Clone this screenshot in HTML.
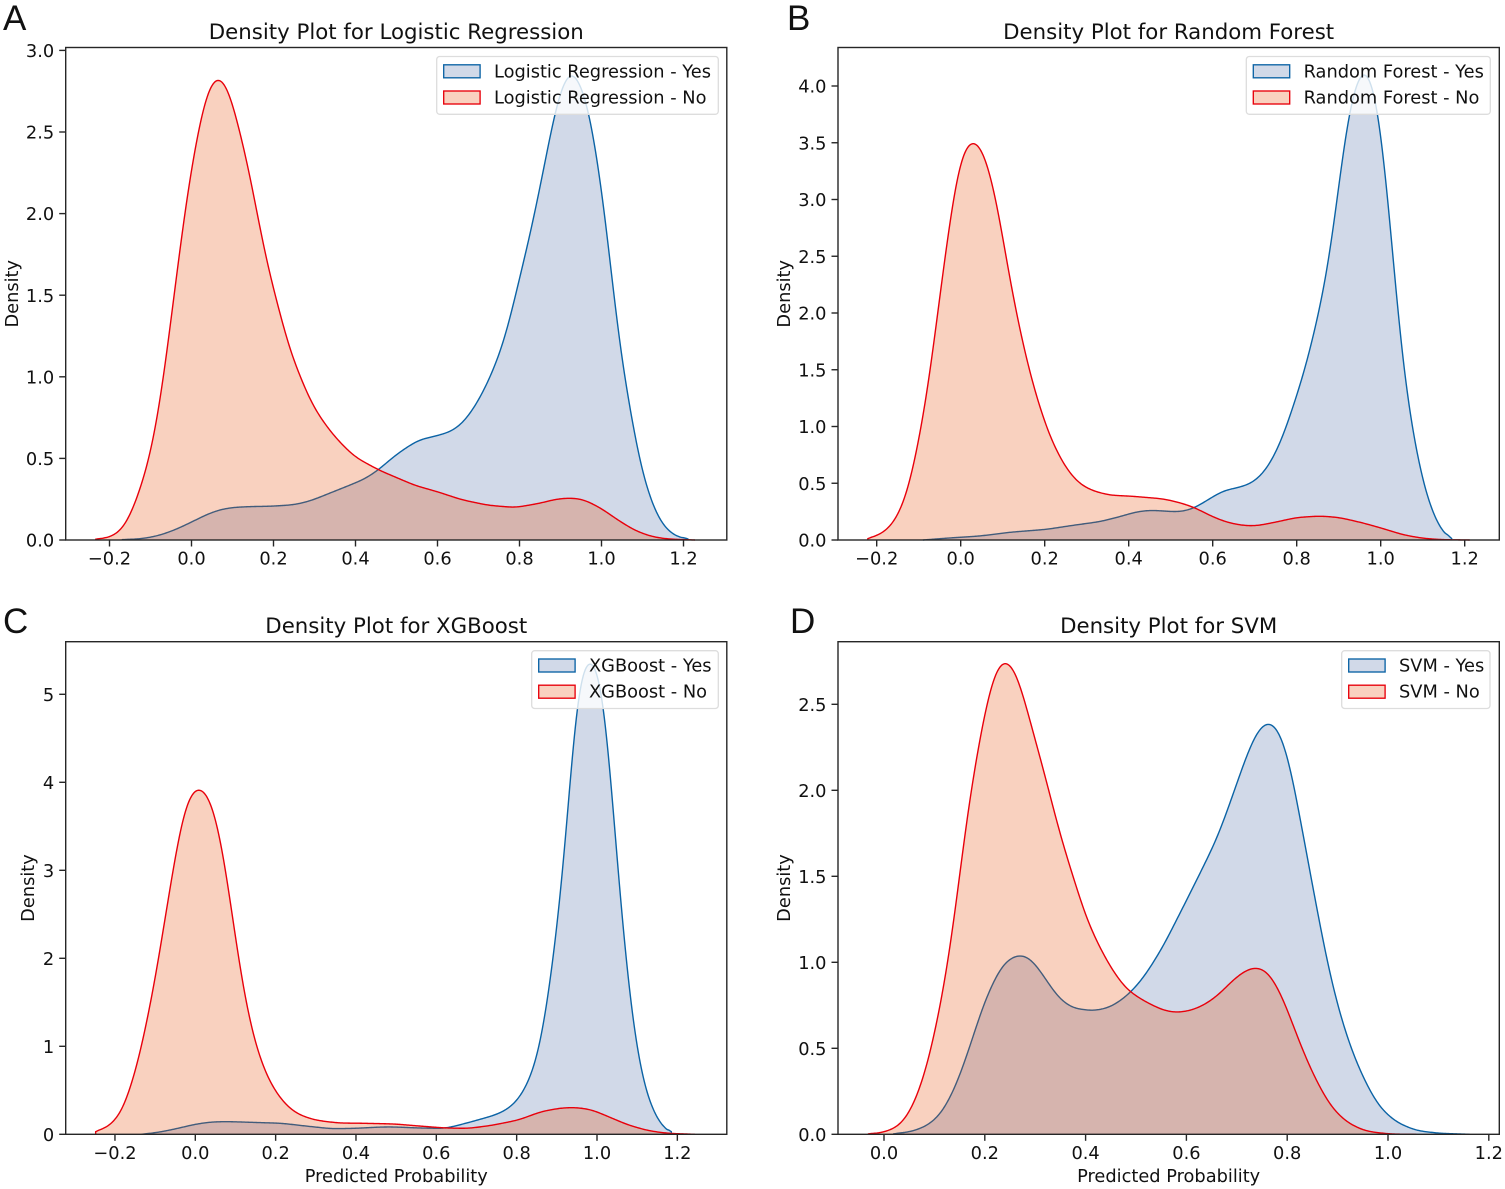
<!DOCTYPE html>
<html lang="en">
<head>
<meta charset="utf-8">
<title>Density plots</title>
<style>
html,body{margin:0;padding:0;background:#fff;width:1505px;height:1189px;overflow:hidden}
svg{display:block}
text{font-family:"DejaVu Sans","Liberation Sans",sans-serif;fill:#111}
</style>
</head>
<body>
<svg id="fig" xmlns="http://www.w3.org/2000/svg" width="1505" height="1189" viewBox="0 0 1505 1189"></svg>
<script>
// Panel A - Logistic Regression
const lrYesX = [-0.17,-0.122,-0.081,-0.04,0,0.041,0.074,0.106,0.147,0.195,0.252,0.293,0.334,0.383,0.423,0.456,0.496,0.521,0.554,0.602,0.635,0.667,0.7,0.732,0.765,0.797,0.83,0.862,0.887,0.903,0.923,0.94,0.96,0.976,0.992,1.009,1.025,1.041,1.058,1.074,1.09,1.106,1.131,1.155,1.179,1.212];
const lrYesY = [0.002,0.008,0.027,0.063,0.11,0.16,0.188,0.2,0.205,0.207,0.217,0.243,0.284,0.333,0.376,0.431,0.516,0.56,0.611,0.642,0.669,0.734,0.857,1.02,1.245,1.572,1.92,2.31,2.62,2.76,2.86,2.82,2.7,2.53,2.27,1.98,1.61,1.27,0.98,0.755,0.53,0.366,0.182,0.08,0.029,0.006];
const lrNoX = [-0.235,-0.203,-0.178,-0.154,-0.13,-0.105,-0.085,-0.065,-0.044,-0.024,-0.004,0.017,0.037,0.053,0.065,0.078,0.094,0.114,0.135,0.155,0.171,0.191,0.212,0.236,0.261,0.293,0.326,0.358,0.399,0.456,0.496,0.545,0.602,0.659,0.724,0.789,0.845,0.894,0.931,0.96,1.0,1.041,1.082,1.122,1.163,1.228];
const lrNoY = [0.004,0.018,0.049,0.131,0.284,0.489,0.73,1.06,1.47,1.86,2.21,2.5,2.72,2.8,2.82,2.8,2.72,2.53,2.32,2.07,1.86,1.63,1.43,1.2,1.03,0.84,0.71,0.61,0.51,0.43,0.387,0.335,0.294,0.247,0.213,0.2,0.223,0.252,0.256,0.243,0.192,0.121,0.059,0.022,0.006,0];
// Panel B - Random Forest
const rfYesX = [-0.09,-0.026,0.045,0.117,0.204,0.267,0.331,0.379,0.418,0.45,0.482,0.51,0.53,0.557,0.593,0.625,0.665,0.696,0.728,0.76,0.791,0.823,0.855,0.879,0.902,0.922,0.942,0.962,0.982,0.998,1.014,1.03,1.045,1.061,1.077,1.097,1.117,1.14,1.17];
const rfYesY = [0,0.018,0.035,0.068,0.094,0.129,0.162,0.206,0.247,0.261,0.256,0.25,0.255,0.285,0.364,0.432,0.467,0.511,0.628,0.849,1.172,1.554,2.053,2.523,3.169,3.697,4.006,4.123,3.962,3.639,3.11,2.464,1.847,1.348,0.966,0.584,0.32,0.115,0.009];
const rfNoX = [-0.221,-0.193,-0.169,-0.149,-0.129,-0.11,-0.09,-0.07,-0.05,-0.03,-0.01,0.01,0.033,0.053,0.073,0.093,0.113,0.133,0.152,0.172,0.196,0.22,0.252,0.283,0.315,0.355,0.41,0.482,0.521,0.557,0.593,0.632,0.672,0.704,0.752,0.799,0.855,0.902,0.958,1.006,1.053,1.101,1.148,1.212];
const rfNoY = [0.012,0.053,0.117,0.235,0.411,0.705,1.087,1.557,2.144,2.673,3.17,3.436,3.5,3.407,3.17,2.82,2.38,2.0,1.674,1.38,1.087,0.852,0.631,0.499,0.435,0.396,0.385,0.362,0.329,0.285,0.217,0.159,0.129,0.126,0.159,0.197,0.211,0.197,0.15,0.1,0.047,0.015,0.003,0];
// Panel C - XGBoost
const xgYesX = [-0.134,-0.092,-0.051,0,0.041,0.082,0.14,0.215,0.273,0.339,0.398,0.464,0.497,0.555,0.622,0.68,0.746,0.779,0.808,0.837,0.862,0.883,0.9,0.916,0.933,0.949,0.966,0.987,1.003,1.02,1.037,1.053,1.07,1.086,1.103,1.12,1.14,1.165,1.185];
const xgYesY = [0,0.023,0.06,0.114,0.14,0.144,0.136,0.125,0.095,0.064,0.068,0.083,0.083,0.072,0.068,0.133,0.22,0.295,0.428,0.693,1.11,1.754,2.36,3.04,3.95,4.9,5.24,5.33,5.2,4.75,3.875,2.93,2.13,1.413,0.92,0.542,0.277,0.087,0.03];
const xgNoX = [-0.248,-0.221,-0.2,-0.179,-0.159,-0.138,-0.117,-0.096,-0.076,-0.055,-0.034,-0.013,0.007,0.028,0.049,0.07,0.09,0.111,0.132,0.153,0.173,0.198,0.227,0.256,0.298,0.356,0.422,0.497,0.555,0.622,0.68,0.738,0.804,0.862,0.912,0.949,0.987,1.028,1.078,1.128,1.177,1.244];
const xgNoY = [0.03,0.087,0.163,0.314,0.58,0.92,1.375,1.867,2.436,3.0,3.534,3.837,3.913,3.856,3.61,3.155,2.549,1.905,1.375,0.996,0.731,0.504,0.333,0.231,0.163,0.129,0.125,0.117,0.095,0.072,0.068,0.102,0.163,0.258,0.299,0.303,0.277,0.201,0.106,0.042,0.011,0];
// Panel D - SVM
const svmYesX = [0.018,0.058,0.091,0.117,0.144,0.17,0.196,0.216,0.236,0.256,0.272,0.289,0.309,0.329,0.349,0.375,0.415,0.448,0.474,0.494,0.52,0.554,0.58,0.607,0.633,0.66,0.68,0.7,0.719,0.739,0.755,0.765,0.778,0.795,0.811,0.831,0.851,0.871,0.891,0.911,0.931,0.957,0.984,1.017,1.056,1.102,1.162];
const svmYesY = [0.002,0.019,0.062,0.14,0.295,0.508,0.74,0.876,0.983,1.027,1.039,1.021,0.953,0.866,0.789,0.736,0.719,0.74,0.789,0.841,0.934,1.095,1.244,1.4,1.554,1.719,1.874,2.039,2.194,2.329,2.378,2.386,2.358,2.252,2.058,1.748,1.438,1.128,0.857,0.643,0.469,0.295,0.159,0.072,0.023,0.006,0];
const svmNoX = [-0.032,-0.002,0.024,0.044,0.064,0.084,0.104,0.124,0.144,0.163,0.183,0.203,0.223,0.243,0.263,0.282,0.302,0.322,0.342,0.362,0.382,0.401,0.428,0.454,0.481,0.514,0.554,0.583,0.613,0.639,0.666,0.692,0.719,0.739,0.759,0.778,0.798,0.818,0.838,0.858,0.878,0.897,0.924,0.957,1.003,1.056];
const svmNoY = [0.002,0.012,0.043,0.101,0.217,0.391,0.643,0.953,1.36,1.806,2.174,2.484,2.698,2.745,2.669,2.484,2.271,2.058,1.826,1.622,1.438,1.264,1.089,0.953,0.847,0.779,0.722,0.709,0.725,0.76,0.818,0.895,0.953,0.967,0.944,0.866,0.74,0.585,0.44,0.314,0.207,0.13,0.062,0.019,0.002,0];
// Tick labels
const xTicksWide = ["-0.2","0.0","0.2","0.4","0.6","0.8","1.0","1.2"];
const xTicksSvm = ["0.0","0.2","0.4","0.6","0.8","1.0","1.2"];
const yTicksLr = ["0.0","0.5","1.0","1.5","2.0","2.5","3.0"];
const yTicksRf = ["0.0","0.5","1.0","1.5","2.0","2.5","3.0","3.5","4.0"];
const yTicksXg = ["0","1","2","3","4","5"];
const yTicksSvm = ["0.0","0.5","1.0","1.5","2.0","2.5"];

const SVGNS = "http://www.w3.org/2000/svg";
const fig = document.getElementById("fig");
const YES_LINE = "#0b63a5", NO_LINE = "#e8000b";
const YES_FILL = "rgb(71,103,163)", NO_FILL = "rgb(232,72,0)";
const AXIS = "#262626";

function mk(parent, tag, attrs, txt) {
  const el = document.createElementNS(SVGNS, tag);
  for (const k in attrs) el.setAttribute(k, attrs[k]);
  if (txt !== undefined) el.textContent = txt;
  parent.appendChild(el);
  return el;
}

// Gaussian smoothing with a symmetric window that shrinks toward the ends.
function smooth(v, sigma) {
  const out = [];
  const R = Math.ceil(sigma * 3);
  for (let i = 0; i < v.length; i++) {
    const r = Math.min(R, i, v.length - 1 - i);
    let sum = 0, w = 0;
    for (let k = -r; k <= r; k++) {
      const g = Math.exp(-k * k / (2 * sigma * sigma));
      sum += g * v[i + k];
      w += g;
    }
    out.push(sum / w);
  }
  return out;
}

// Resample the read points through the axis functions and build a smooth KDE-like outline.
function curvePath(xs, ys, sx, sy) {
  const n = xs.length;
  const base = sy(0);
  const x0 = sx(xs[0]), x1 = sx(xs[n - 1]);
  const steps = Math.ceil(x1 - x0);
  const px = [], raw = [];
  let j = 0;
  for (let i = 0; i <= steps; i++) {
    const x = x0 + (x1 - x0) * i / steps;
    while (j < n - 2 && sx(xs[j + 1]) < x) j++;
    const a = sx(xs[j]), b = sx(xs[j + 1]);
    const t = Math.min(1, Math.max(0, (x - a) / (b - a)));
    px.push(x);
    raw.push(sy(ys[j]) + (sy(ys[j + 1]) - sy(ys[j])) * t);
  }
  const s1 = smooth(raw, 7);
  const s2 = smooth(s1, 7);
  const py = s1.map((v, i) => Math.min(base, 2 * v - s2[i]));
  let p = "";
  if (ys[0] > 0.01) p = "M" + px[0].toFixed(2) + " " + base + "L" + px[0].toFixed(2) + " " + py[0].toFixed(2);
  else p = "M" + px[0].toFixed(2) + " " + py[0].toFixed(2);
  for (let i = 1; i < px.length; i++) p += "L" + px[i].toFixed(2) + " " + py[i].toFixed(2);
  if (ys[n - 1] > 0.01) p += "L" + x1.toFixed(2) + " " + base;
  return { line: p, x0: x0, x1: x1 };
}

function drawPanel(o) {
  const g = mk(fig, "g", {});
  
  

  const sx = v => o.x0 + o.xUnit * v;
  const sy = v => o.y0 - o.yUnit * v;
  const base = sy(0);

  // Yes series (drawn first so the No fill tints it)
  const yes = curvePath(o.yesX, o.yesY, sx, sy);
  const yesFill = mk(g, "path", { d: yes.line + "L" + yes.x1 + " " + base + "L" + yes.x0 + " " + base + "Z", fill: YES_FILL, "fill-opacity": 0.25, stroke: "none" });
  
  
  const yesLine = mk(g, "path", { d: yes.line, fill: "none", stroke: YES_LINE, "stroke-width": 1.4 });
  
  

  const no = curvePath(o.noX, o.noY, sx, sy);
  const noFill = mk(g, "path", { d: no.line + "L" + no.x1 + " " + base + "L" + no.x0 + " " + base + "Z", fill: NO_FILL, "fill-opacity": 0.25, stroke: "none" });
  
  
  const noLine = mk(g, "path", { d: no.line, fill: "none", stroke: NO_LINE, "stroke-width": 1.4 });
  
  

  // Frame
  const frame = mk(g, "rect", { x: o.left, y: o.top, width: o.right - o.left, height: o.bottom - o.top, fill: "none", stroke: AXIS, "stroke-width": 1.4 });
  
  

  // X ticks
  o.xTicks.forEach(label => {
    const v = parseFloat(label), x = sx(v);
    const t = mk(g, "line", { x1: x, x2: x, y1: o.bottom, y2: o.bottom + 6.5, stroke: AXIS, "stroke-width": 1.4 });
    
    
    const l = mk(g, "text", { x: x, y: o.bottom + 24.5, "text-anchor": "middle", "font-size": 17.8 }, label.replace("-", "\u2212"));
    
    
  });

  // Y ticks
  o.yTicks.forEach(label => {
    const y = sy(parseFloat(label));
    const t = mk(g, "line", { x1: o.left - 6.5, x2: o.left, y1: y, y2: y, stroke: AXIS, "stroke-width": 1.4 });
    
    
    const l = mk(g, "text", { x: o.left - 11.5, y: y + 6.6, "text-anchor": "end", "font-size": 17.8 }, label);
    
    
  });

  // Title and axis titles
  const cx = (o.left + o.right) / 2;
  const title = mk(g, "text", { x: cx, y: o.top - 8.5, "text-anchor": "middle", "font-size": 21.3 }, o.title);
  
  

  const cy = (o.top + o.bottom) / 2;
  const yl = mk(g, "text", { x: o.yLabelX, y: cy, "text-anchor": "middle", "font-size": 17.8, transform: "rotate(-90 " + o.yLabelX + " " + cy + ")" }, "Density");
  
  

  if (o.xLabel) {
    const xl = mk(g, "text", { x: cx, y: o.bottom + 47.5, "text-anchor": "middle", "font-size": 17.8 }, o.xLabel);
    
    
  }

  // Legend
  const lg = mk(g, "g", {});
  
  
  const ly = o.top + 9;
  const box = mk(lg, "rect", { x: o.legendLeft, y: ly, width: o.legendRight - o.legendLeft, height: 57.8, rx: 3, fill: "#fff", "fill-opacity": 0.8, stroke: "#ddd", "stroke-width": 1.3 });
  
  

  const sw1 = mk(lg, "rect", { x: o.legendLeft + 7, y: ly + 8.3, width: 36.4, height: 13, fill: YES_FILL, "fill-opacity": 0.25, stroke: YES_LINE, "stroke-width": 1.35 });
  
  
  const t1 = mk(lg, "text", { x: o.legendLeft + 57.3, y: ly + 20.8, "font-size": 17.8 }, o.name + " - Yes");
  
  

  const sw2 = mk(lg, "rect", { x: o.legendLeft + 7, y: ly + 34.5, width: 36.4, height: 13, fill: NO_FILL, "fill-opacity": 0.25, stroke: NO_LINE, "stroke-width": 1.35 });
  
  
  const t2 = mk(lg, "text", { x: o.legendLeft + 57.3, y: ly + 46.9, "font-size": 17.8 }, o.name + " - No");
  
  

  // Panel letter
  const letter = mk(g, "text", { x: o.letterX, y: o.letterY, "font-size": 35, style: 'font-family:"Liberation Sans",sans-serif' }, o.letter);
  
  
}

drawPanel({ id: "logistic-regression", letter: "A", letterX: 3, letterY: 30, name: "Logistic Regression", title: "Density Plot for Logistic Regression",
  left: 65.7, right: 726.8, top: 47.5, bottom: 540, x0: 191.5, xUnit: 410, y0: 540, yUnit: 163.2,
  yesX: lrYesX, yesY: lrYesY, noX: lrNoX, noY: lrNoY, xTicks: xTicksWide, yTicks: yTicksLr, yLabelX: 18,
  legendLeft: 436.7, legendRight: 718.3 });

drawPanel({ id: "random-forest", letter: "B", letterX: 787, letterY: 30, name: "Random Forest", title: "Density Plot for Random Forest",
  left: 838, right: 1499.3, top: 47.5, bottom: 540, x0: 960.7, xUnit: 420, y0: 540, yUnit: 113.5,
  yesX: rfYesX, yesY: rfYesY, noX: rfNoX, noY: rfNoY, xTicks: xTicksWide, yTicks: yTicksRf, yLabelX: 790,
  legendLeft: 1246.3, legendRight: 1490.3 });

drawPanel({ id: "xgboost", letter: "C", letterX: 3, letterY: 633, name: "XGBoost", title: "Density Plot for XGBoost",
  left: 65.7, right: 726.8, top: 641.7, bottom: 1134.3, x0: 195.3, xUnit: 401.7, y0: 1134.3, yUnit: 88,
  yesX: xgYesX, yesY: xgYesY, noX: xgNoX, noY: xgNoY, xTicks: xTicksWide, yTicks: yTicksXg, yLabelX: 34, xLabel: "Predicted Probability",
  legendLeft: 531.7, legendRight: 718.3 });

drawPanel({ id: "svm", letter: "D", letterX: 790, letterY: 633, name: "SVM", title: "Density Plot for SVM",
  left: 838, right: 1499.3, top: 641.7, bottom: 1134.3, x0: 884, xUnit: 504, y0: 1134.3, yUnit: 172,
  yesX: svmYesX, yesY: svmYesY, noX: svmNoX, noY: svmNoY, xTicks: xTicksSvm, yTicks: yTicksSvm, yLabelX: 790, xLabel: "Predicted Probability",
  legendLeft: 1341.7, legendRight: 1490 });
</script>
</body>
</html>
